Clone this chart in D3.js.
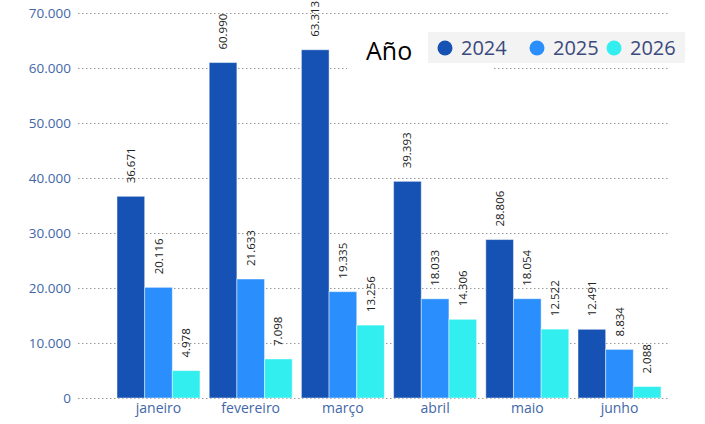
<!DOCTYPE html>
<html>
<head>
<meta charset="utf-8">
<script src="https://cdn.jsdelivr.net/npm/d3@7"></script>
<style>
  html, body { margin: 0; padding: 0; background: #fff; }
  svg { display: block; font-family: "Open Sans", "Noto Sans", sans-serif; }
</style>
</head>
<body>
<svg id="chart" width="705" height="424"></svg>
<script>
// Monthly totals by year
const months = ["janeiro", "fevereiro", "março", "abril", "maio", "junho"];
const years = ["2024", "2025", "2026"];
const values2024 = [36671, 60990, 63313, 39393, 28806, 12491];
const values2025 = [20116, 21633, 19335, 18033, 18054, 8834];
const values2026 = [4978, 7098, 13256, 14306, 12522, 2088];
const yTicks = [0, 10000, 20000, 30000, 40000, 50000, 60000, 70000];
const yearColors = ["#1552b4", "#2a8efd", "#33eeee"];
const legendTitle = "Año";

const seriesByYear = [values2024, values2025, values2026];
const rows = months.map((m, i) => ({
  month: m,
  values: years.map((y, j) => ({ year: y, value: seriesByYear[j][i] }))
}));

const svg = d3.select("#chart");
const fmt = v => d3.format(",")(v).replace(/,/g, ".");

const y = d3.scaleLinear().domain([0, 70000]).range([398, 13]);
const x0 = d3.scaleBand().domain(months).range([112.4, 665.6]).paddingInner(0.1).paddingOuter(0.05);
const x1 = d3.scaleBand().domain(years).range([0, x0.bandwidth()]).padding(0);
const color = d3.scaleOrdinal().domain(years).range(yearColors);

// dotted gridlines
svg.append("g").selectAll("line")
  .data(yTicks).join("line")
  .attr("x1", 78).attr("x2", 668)
  .attr("y1", d => y(d) + 0.5).attr("y2", d => y(d) + 0.5)
  .attr("stroke", "#9a9a9a").attr("stroke-width", 1)
  .attr("stroke-dasharray", "1.5,2.5");

// y axis labels
const yAxis = d3.axisLeft(y).tickValues(yTicks).tickSize(0).tickPadding(0).tickFormat(fmt);
svg.append("g").attr("transform", "translate(71,0)").call(yAxis)
  .call(g => g.select(".domain").remove())
  .call(g => g.selectAll("text")
    .attr("fill", "#4267a8").attr("font-size", 13.5)
    .attr("font-family", "'Open Sans', sans-serif"));

// x axis labels
const xAxis = d3.axisBottom(x0).tickSize(0).tickPadding(0);
svg.append("g").attr("transform", "translate(0,403)").call(xAxis)
  .call(g => g.select(".domain").remove())
  .call(g => g.selectAll("text")
    .attr("fill", "#4267a8").attr("font-size", 14)
    .attr("font-family", "'Open Sans', sans-serif"));

// bars
const groups = svg.append("g").selectAll("g")
  .data(rows).join("g")
  .attr("transform", d => `translate(${x0(d.month)},0)`);

groups.selectAll("rect")
  .data(d => d.values).join("rect")
  .attr("x", d => x1(d.year))
  .attr("y", d => y(d.value))
  .attr("width", x1.bandwidth())
  .attr("height", d => y(0) - y(d.value))
  .attr("fill", d => color(d.year))
  .attr("stroke", "rgba(255,255,255,0.45)")
  .attr("stroke-width", 1);

// value labels, rotated
groups.selectAll("text.val")
  .data(d => d.values).join("text")
  .attr("class", "val")
  .attr("transform", d => `translate(${x1(d.year) + x1.bandwidth() / 2 + 4},${y(d.value) - 13}) rotate(-90)`)
  .attr("text-anchor", "start")
  .attr("font-size", 11.5)
  .attr("fill", "#222")
  .text(d => fmt(d.value));

// legend
svg.append("rect").attr("x", 347).attr("y", 18).attr("width", 146).attr("height", 54).attr("fill", "#fff");
svg.append("rect").attr("x", 428).attr("y", 32).attr("width", 257).attr("height", 31).attr("fill", "#f3f3f3");
svg.append("text").attr("x", 366).attr("y", 60)
  .attr("font-size", 25).attr("fill", "#000").text(legendTitle);

const legendX = [445, 537, 614];
const item = svg.append("g").selectAll("g")
  .data(years).join("g")
  .attr("transform", (d, i) => `translate(${legendX[i]},48)`);
item.append("circle").attr("r", 7.5).attr("fill", d => color(d));
item.append("text").attr("x", 16).attr("y", 7)
  .attr("font-size", 20).attr("fill", "#3b4a7c").text(d => d);
</script>
</body>
</html>
